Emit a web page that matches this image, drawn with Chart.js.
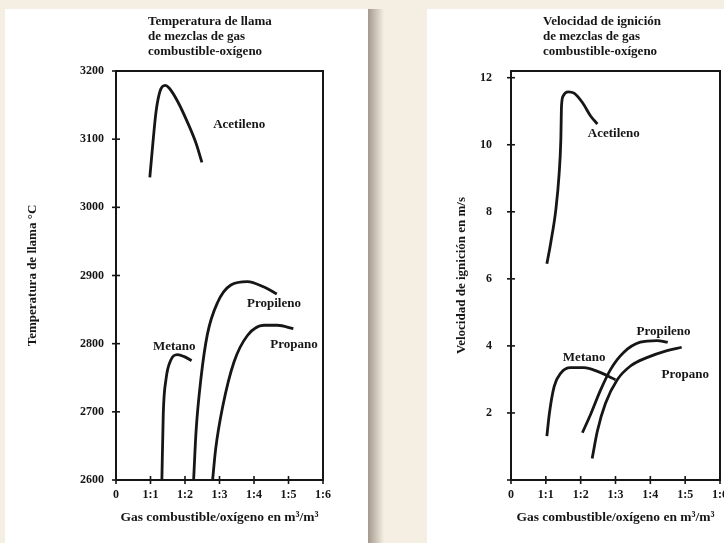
<!DOCTYPE html>
<html>
<head>
<meta charset="utf-8">
<script src="https://cdn.jsdelivr.net/npm/chart.js@4"></script>
<style>
  html, body { margin: 0; padding: 0; }
  body { width: 724px; height: 543px; overflow: hidden; background: #f5eee3; position: relative; }
  .panel { position: absolute; background: #fff; overflow: hidden; }
  #leftPanel { left: 5px; top: 9px; width: 363px; height: 534px; }
  #rightPanel { left: 427px; top: 9px; width: 297px; height: 534px; }
  #shadow { position: absolute; left: 368px; top: 9px; width: 16px; height: 534px;
    background: linear-gradient(to right, rgba(150,138,125,0.85), rgba(245,238,227,0)); }
  canvas { position: absolute; left: 0; top: 0; }
</style>
</head>
<body>
<div class="panel" id="leftPanel"><canvas id="tempChart" width="363" height="534"></canvas></div>
<div id="shadow"></div>
<div class="panel" id="rightPanel"><canvas id="velChart" width="310" height="534"></canvas></div>
<script>
const xTickLabels = ['0', '1:1', '1:2', '1:3', '1:4', '1:5', '1:6'];

// Temperatura de llama (°C)
const tempYTicks = [2600, 2700, 2800, 2900, 3000, 3100, 3200];
const tempAcetilenoX = [0.98, 1.06, 1.16, 1.28, 1.43, 1.54, 1.78, 2.07, 2.32, 2.49];
const tempAcetilenoY = [3044, 3089, 3140, 3171, 3179, 3175, 3156, 3125, 3094, 3066];
const tempMetanoX = [1.33, 1.37, 1.45, 1.59, 1.78, 1.98, 2.19];
const tempMetanoY = [2600, 2697, 2748, 2776, 2784, 2781, 2775];
const tempPropilenoX = [2.25, 2.32, 2.46, 2.65, 2.94, 3.33, 3.81, 4.29, 4.66];
const tempPropilenoY = [2600, 2671, 2748, 2814, 2860, 2886, 2891, 2883, 2873];
const tempPropanoX = [2.80, 2.89, 3.09, 3.42, 3.81, 4.29, 4.68, 5.14];
const tempPropanoY = [2600, 2646, 2707, 2773, 2812, 2827, 2827, 2822];
const tempLabelNames = ['Acetileno', 'Propileno', 'Propano', 'Metano'];
const tempLabelX = [3.57, 4.58, 5.16, 1.69];
const tempLabelY = [3121, 2858, 2799, 2796];

// Velocidad de ignición (m/s)
const velYTicks = [0, 2, 4, 6, 8, 10, 12];
const velAcetilenoX = [1.03, 1.14, 1.29, 1.38, 1.43, 1.45, 1.50, 1.64, 1.81, 2.05, 2.29, 2.48];
const velAcetilenoY = [6.45, 7.07, 8.09, 9.11, 10.13, 11.15, 11.46, 11.58, 11.54, 11.26, 10.85, 10.62];
const velMetanoX = [1.03, 1.10, 1.24, 1.43, 1.71, 2.10, 2.48, 2.81, 3.00];
const velMetanoY = [1.31, 1.97, 2.79, 3.19, 3.35, 3.35, 3.24, 3.09, 2.99];
const velPropilenoX = [2.05, 2.29, 2.57, 2.86, 3.24, 3.71, 4.19, 4.50];
const velPropilenoY = [1.41, 1.97, 2.68, 3.30, 3.81, 4.11, 4.16, 4.11];
const velPropanoX = [2.33, 2.48, 2.71, 3.05, 3.43, 3.90, 4.48, 4.90];
const velPropanoY = [0.64, 1.46, 2.28, 2.99, 3.40, 3.65, 3.86, 3.96];
const velLabelNames = ['Acetileno', 'Metano', 'Propileno', 'Propano'];
const velLabelX = [2.95, 2.10, 4.38, 5.00];
const velLabelY = [10.34, 3.65, 4.42, 3.14];

const serif = '"Liberation Serif", "DejaVu Serif", serif';
const ink = '#161616';

function points(xs, ys) {
  return xs.map((x, i) => ({ x: x, y: ys[i] }));
}

function curve(xs, ys) {
  return {
    data: points(xs, ys),
    borderColor: ink,
    borderWidth: 2.8,
    pointRadius: 0,
    fill: false,
    cubicInterpolationMode: 'monotone'
  };
}

// marco completo + marcas de los ticks cruzando el eje
const framePlugin = {
  id: 'frame',
  afterDatasetsDraw(chart) {
    const { ctx, chartArea: a, scales } = chart;
    ctx.save();
    ctx.strokeStyle = ink;
    ctx.lineWidth = 2;
    ctx.strokeRect(a.left, a.top, a.right - a.left, a.bottom - a.top);
    ctx.lineWidth = 1.6;
    scales.x.ticks.forEach(t => {
      const px = scales.x.getPixelForValue(t.value);
      ctx.beginPath(); ctx.moveTo(px, a.bottom - 4); ctx.lineTo(px, a.bottom + 4); ctx.stroke();
    });
    scales.y.ticks.forEach(t => {
      const py = scales.y.getPixelForValue(t.value);
      ctx.beginPath(); ctx.moveTo(a.left - 4, py); ctx.lineTo(a.left + 4, py); ctx.stroke();
    });
    ctx.restore();
  }
};

// nombres de las curvas y título de bloque
const textPlugin = {
  id: 'texts',
  afterDraw(chart, args, opts) {
    const { ctx, chartArea: a, scales } = chart;
    ctx.save();
    ctx.fillStyle = ink;
    ctx.font = 'bold 13px ' + serif;
    ctx.textAlign = 'center';
    ctx.textBaseline = 'middle';
    opts.names.forEach((n, i) => {
      ctx.fillText(n, scales.x.getPixelForValue(opts.xs[i]), scales.y.getPixelForValue(opts.ys[i]));
    });
    ctx.textAlign = 'left';
    opts.title.forEach((line, i) => {
      ctx.fillText(line, a.left + opts.titleOffset, 13 + i * 15);
    });
    ctx.restore();
  }
};

function makeChart(id, datasets, cfg) {
  return new Chart(document.getElementById(id), {
    type: 'line',
    data: { datasets: datasets },
    plugins: [framePlugin, textPlugin],
    options: {
      responsive: false,
      animation: false,
      layout: { padding: { top: 62, right: cfg.padRight, left: 0, bottom: 0 } },
      plugins: {
        legend: { display: false },
        tooltip: { enabled: false },
        texts: { names: cfg.names, xs: cfg.lx, ys: cfg.ly, title: cfg.title, titleOffset: 32 }
      },
      scales: {
        x: {
          type: 'linear',
          min: 0,
          max: 6,
          grid: { display: false, drawTicks: false },
          border: { display: false },
          ticks: {
            stepSize: 1,
            padding: 8,
            color: ink,
            font: { family: serif, size: 12, weight: 'bold' },
            callback: v => xTickLabels[v]
          },
          title: {
            display: true,
            text: 'Gas combustible/oxígeno en m³/m³',
            color: ink,
            font: { family: serif, size: 13.5, weight: 'bold' },
            padding: { top: 0, bottom: 17 }
          },
          afterFit: s => { s.height = 63; }
        },
        y: {
          min: cfg.yMin,
          max: cfg.yMax,
          grid: { display: false, drawTicks: false },
          border: { display: false },
          afterBuildTicks: s => { s.ticks = cfg.yTicks.map(v => ({ value: v })); },
          ticks: {
            padding: cfg.yPad,
            color: ink,
            font: { family: serif, size: 12, weight: 'bold' },
            callback: v => (v === 0 ? '' : v)
          },
          title: {
            display: true,
            text: cfg.yTitle,
            color: ink,
            font: { family: serif, size: 13, weight: 'bold' },
            padding: { top: cfg.yTitlePad, bottom: 0 }
          },
          afterFit: s => { s.width = cfg.yWidth; }
        }
      }
    }
  });
}

makeChart('tempChart', [
  curve(tempAcetilenoX, tempAcetilenoY),
  curve(tempMetanoX, tempMetanoY),
  curve(tempPropilenoX, tempPropilenoY),
  curve(tempPropanoX, tempPropanoY)
], {
  yMin: 2600, yMax: 3200, yTicks: tempYTicks, yPad: 12, yWidth: 111, yTitlePad: 20, padRight: 45,
  yTitle: 'Temperatura de llama °C',
  names: tempLabelNames, lx: tempLabelX, ly: tempLabelY,
  title: ['Temperatura de llama', 'de mezclas de gas', 'combustible-oxígeno']
});

makeChart('velChart', [
  curve(velAcetilenoX, velAcetilenoY),
  curve(velMetanoX, velMetanoY),
  curve(velPropilenoX, velPropilenoY),
  curve(velPropanoX, velPropanoY)
], {
  yMin: 0, yMax: 12.2, yTicks: velYTicks, yPad: 19, yWidth: 84, yTitlePad: 27, padRight: 17,
  yTitle: 'Velocidad de ignición en m/s',
  names: velLabelNames, lx: velLabelX, ly: velLabelY,
  title: ['Velocidad de ignición', 'de mezclas de gas', 'combustible-oxígeno']
});
</script>
</body>
</html>
